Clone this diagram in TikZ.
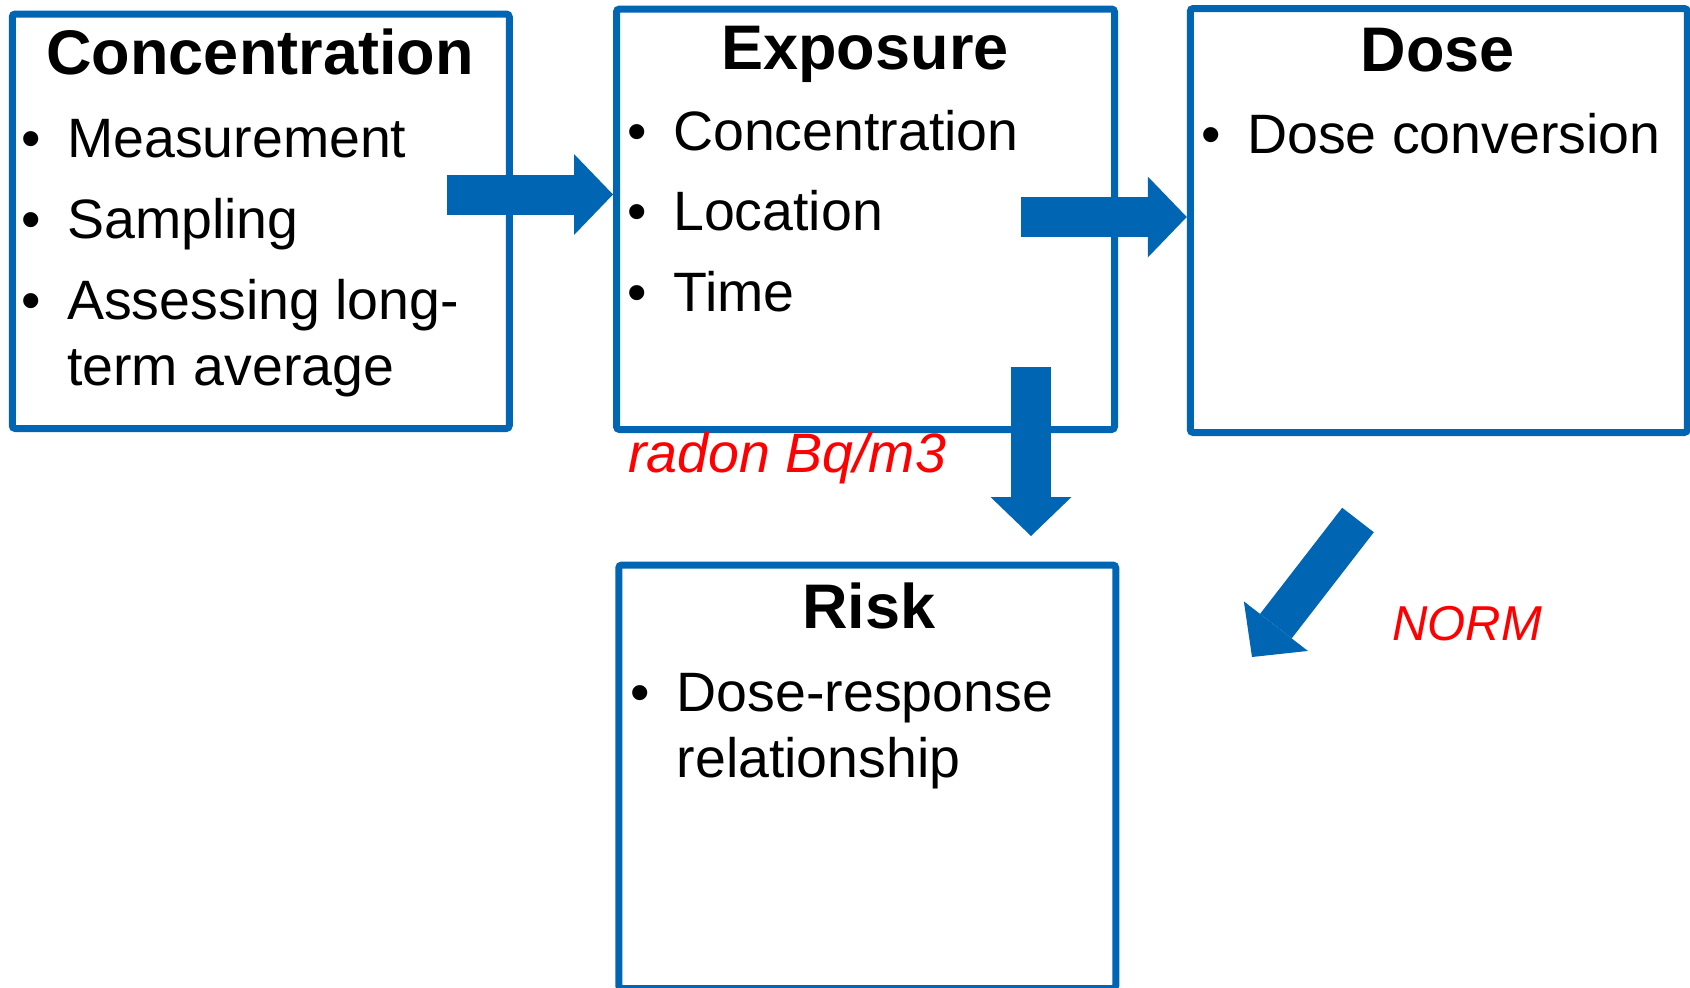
\documentclass[tikz,border=0pt]{standalone}
\usepackage{fontspec}
\setmainfont{Liberation Sans}
\usetikzlibrary{arrows.meta,positioning}

\definecolor{boxblue}{RGB}{0,102,179}
\newcommand{\bodyfont}{\fontsize{55.5}{66}\selectfont}
\newcommand{\headfont}{\fontsize{63}{63}\selectfont\bfseries}
\newcommand{\bul}{\makebox[46pt][l]{\textbullet}}

\tikzset{
  stage/.style={draw=boxblue, line width=7pt, rounded corners=3pt,
    minimum width=497pt, inner sep=0pt},
  head/.style={anchor=base, inner sep=0pt, font=\headfont},
  item/.style={anchor=base west, inner sep=0pt, font=\bodyfont},
  note/.style={anchor=base west, inner sep=0pt, text=red, font=\fontsize{#1}{#1}\selectfont\itshape},
  flow/.style={draw=boxblue, line width=40pt,
    -{Triangle[width=81pt, length=39pt, line width=0pt, fill=boxblue]}}
}

\begin{document}
\begin{tikzpicture}[x=1pt,y=-1pt]
  \useasboundingbox (0,0) rectangle (1690,988);

  % the four stages
  \node[stage, minimum height=414.5pt] (conc) at (260.75,221.25) {};
  \node[stage, minimum width=498pt, minimum height=420.5pt] (expo) at (865.5,219.25) {};
  \node[stage, minimum height=424pt] (dose) at (1438.75,220.5) {};
  \node[stage, minimum height=423.5pt] (risk) at (867.25,776.75) {};

  % headings
  \node[head] (conc-h) at (260,74) {Concentration};
  \node[head] (expo-h) at (865,69) {Exposure};
  \node[head] (dose-h) at (1438,71) {Dose};
  \node[head] (risk-h) at (869,628) {Risk};

  % bullet points
  \foreach \y/\txt [count=\i] in {157/Measurement, 238/Sampling, 319/Assessing long-}
    \node[item] (conc-\i) at (21,\y) {\bul\txt};
  \node[item] (conc-4) at (67,385) {term average};

  \foreach \y/\txt [count=\i] in {150/Concentration, 230/Location, 311/Time}
    \node[item] (expo-\i) at (627,\y) {\bul\txt};

  \node[item] (dose-1) at (1201,153) {\bul Dose conversion};

  \node[item] (risk-1) at (630.5,711) {\bul Dose-response};
  \node[item] (risk-2) at (676.5,777) {relationship};

  % remarks
  \node[note=55.5] (radon) at (628,472) {radon Bq/m3};
  \node[note=49] (norm) at (1392,640) {NORM};

  % block arrows
  \coordinate (a1) at (447,194.5);
  \coordinate (a2) at (1021,217);
  \coordinate (a3) at (1031,367);
  \coordinate (a3e) at (1031,536);
  \coordinate (a4) at (1358,520);
  \coordinate (a4e) at (1252,657);

  \draw[flow] (a1) -- (a1 -| expo.west);
  \draw[flow] (a2) -- (a2 -| dose.west);
  \draw[flow] (a3) -- (a3e);
  \draw[flow] (a4) -- (a4e);
\end{tikzpicture}
\end{document}
